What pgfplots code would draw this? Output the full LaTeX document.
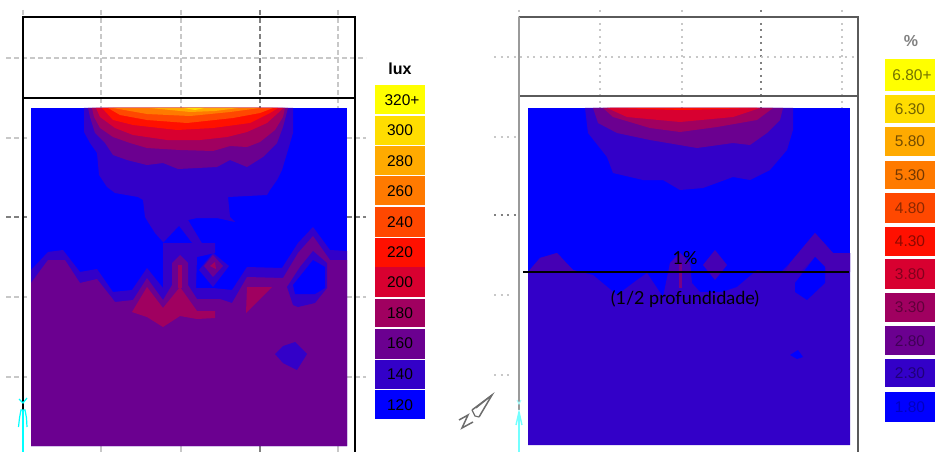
\documentclass[border=0pt]{standalone}
\usepackage{fontspec}
\setmainfont{Liberation Sans}
\newfontfamily\thinf{Lato}
\usepackage{pgfplots}
\pgfplotsset{compat=1.18}
\definecolor{cA}{HTML}{0000FF}
\definecolor{cB}{HTML}{3300C8}
\definecolor{cC}{HTML}{6B0090}
\definecolor{cD}{HTML}{A00060}
\definecolor{cE}{HTML}{D80030}
\definecolor{cF}{HTML}{FF1000}
\definecolor{cG}{HTML}{FF4800}
\definecolor{cH}{HTML}{FF7A00}
\definecolor{cI}{HTML}{FFAA00}
\definecolor{cJ}{HTML}{FFDD00}
\definecolor{cK}{HTML}{FFFF00}
\definecolor{gl}{HTML}{C8C8C8}
\definecolor{gd}{HTML}{808080}
\definecolor{cy}{HTML}{00FFFF}
\definecolor{cP}{HTML}{4600B4}
\newcommand{\poly}[2]{\addplot[fill=#1,draw=none,forget plot] coordinates {#2} --cycle;}
\newcommand{\seg}[2]{\addplot[forget plot,#1] coordinates {#2};}
\newcommand{\swatch}[5]{\addplot[fill=#1,draw=none,forget plot] coordinates {(#2,#4)(#3,#4)(#3,#5)(#2,#5)} --cycle;}
\begin{document}
\begin{tikzpicture}
\useasboundingbox (0,0) rectangle (938pt,452pt);
\begin{axis}[hide axis,scale only axis,width=938pt,height=452pt,xmin=0,xmax=938,ymin=0,ymax=452,y dir=reverse,no markers,line join=miter]
% ---- left panel grid
\seg{gl,line width=1.2pt,dash pattern=on 5pt off 3pt}{(23,10)(23,17)}
\seg{gl,line width=1.2pt,dash pattern=on 5pt off 3pt}{(101,10)(101,108)}
\seg{gl,line width=1.2pt,dash pattern=on 5pt off 3pt}{(181,10)(181,108)}
\seg{gd,line width=1.2pt,dash pattern=on 5pt off 3pt}{(260,10)(260,108)}
\seg{gl,line width=1.2pt,dash pattern=on 5pt off 3pt}{(338,10)(338,108)}
\seg{gl,line width=1.2pt,dash pattern=on 5pt off 3pt}{(6,58)(366,58)}
\seg{gl,line width=1.2pt,dash pattern=on 5pt off 3pt}{(6,138)(29,138)}
\seg{gl,line width=1.2pt,dash pattern=on 5pt off 3pt}{(347,138)(366,138)}
\seg{gd,line width=1.2pt,dash pattern=on 5pt off 3pt}{(6,217)(29,217)}
\seg{gd,line width=1.2pt,dash pattern=on 5pt off 3pt}{(347,217)(366,217)}
\seg{gl,line width=1.2pt,dash pattern=on 5pt off 3pt}{(6,297)(29,297)}
\seg{gl,line width=1.2pt,dash pattern=on 5pt off 3pt}{(347,297)(366,297)}
\seg{gl,line width=1.2pt,dash pattern=on 5pt off 3pt}{(6,377)(29,377)}
\seg{gl,line width=1.2pt,dash pattern=on 5pt off 3pt}{(347,377)(366,377)}
\seg{gl,line width=1.5pt}{(101,446)(101,452)}
\seg{gl,line width=1.5pt}{(181,446)(181,452)}
\seg{gd,line width=1.5pt}{(260,446)(260,452)}
\seg{gl,line width=1.5pt}{(338,446)(338,452)}
% ---- left panel frame
\seg{black,line width=1.6pt}{(23,415)(23,17)(355,17)(355,452)}
\seg{black,line width=1.6pt}{(23,98)(355,98)}
% ---- left panel map
\poly{cA}{(31,108)(347,108)(347,446)(31,446)}
\poly{cB}{(84,108)(84,132)(90,143)(97,153)(99,175)(107,187)(115,193)(138,197)(143,200)(145,217)(148,222)(155,233)(163,242)(163,245)(203,245)(188,220)(197,218)(217,218)(235,222)(230,217)(228,197)(267,195)(270,190)(277,180)(282,170)(288,150)(293,133)(293,108)}
\poly{cA}{(163,243)(179,226)(192,243)}
\poly{cB}{(31,270)(48,252)(63,250)(80,272)(97,269)(113,292)(132,290)(147,268)(163,288)(163,243)(215,243)(215,253)(197,257)(196,288)(213,288)(232,290)(247,267)(282,268)(298,243)(313,227)(330,250)(347,251)(347,446)(31,446)}
\poly{cB}{(213,253)(229,266)(213,287)(199,270)}
\poly{cC}{(204,266)(213,255)(223,266)(213,277)}
\poly{cD}{(210,266)(215,262)(216,269)}
\poly{cC}{(88,108)(90,117)(95,133)(105,143)(113,155)(127,160)(147,165)(163,163)(178,169)(217,167)(230,160)(247,167)(263,157)(277,143)(283,127)(288,108)}
\poly{cD}{(92,108)(94,117)(100,128)(113,137)(130,143)(147,148)(180,150)(213,151)(230,146)(247,147)(260,142)(275,130)(283,117)(285,108)}
\poly{cE}{(96,108)(100,117)(115,128)(133,135)(167,140)(200,140)(227,137)(247,132)(267,123)(278,113)(283,108)}
\poly{cF}{(102,108)(113,120)(133,125)(177,130)(213,128)(250,123)(270,113)(278,108)}
\poly{cG}{(108,108)(120,115)(147,120)(187,123)(233,118)(260,113)(273,108)}
\poly{cH}{(113,108)(147,114)(190,116)(230,112)(260,108)}
\poly{cI}{(150,108)(190,112)(215,111)(238,108)}
\poly{cJ}{(184,108)(195,110)(204,108)}
\poly{cC}{(31,283)(48,260)(65,260)(80,283)(97,279)(112,298)(115,302)(133,300)(147,278)(163,300)(172,285)(172,263)(180,255)(188,263)(188,285)(197,299)(220,299)(232,303)(247,277)(283,278)(298,253)(313,236)(330,260)(347,260)(347,446)(31,446)}
\poly{cB}{(287,287)(293,305)(298,307)(315,303)(327,288)(327,263)(313,251)(300,267)}
\poly{cA}{(293,285)(313,260)(325,267)(325,288)(315,294)(295,294)}
\poly{cD}{(132,312)(147,287)(163,308)(180,287)(197,311)(215,311)(215,318)(197,319)(180,316)(163,327)(147,317)}
\poly{cD}{(178,265)(182,265)(182,288)(178,288)}
\poly{cD}{(247,287)(272,287)(246,313)}
\poly{cB}{(275,354)(283,346)(295,342)(307,354)(297,370)(283,363)}
% ---- left cyan marker
\seg{cy,line width=1.2pt}{(23,410)(23,452)}
\seg{cy,line width=1.2pt}{(18.5,427)(19.5,418)(21,410)(25,410)(26.5,418)(27,427)}
\seg{cy,line width=1.2pt}{(19,399)(23,403)(27,398)}
% ---- left legend
\swatch{cK}{375}{425}{85}{114}
\swatch{cJ}{375}{425}{116}{145}
\swatch{cI}{375}{425}{146}{175}
\swatch{cH}{375}{425}{176}{205}
\swatch{cG}{375}{425}{207}{237}
\swatch{cF}{375}{425}{238}{267}
\swatch{cE}{375}{425}{267}{297}
\swatch{cD}{375}{425}{299}{327}
\swatch{cC}{375}{425}{329}{359}
\swatch{cB}{375}{425}{360}{389}
\swatch{cA}{375}{425}{390}{419}
% ---- right panel grid
\seg{gl,line width=1.2pt,dash pattern=on 2pt off 4.5pt}{(519,10)(519,17)}
\seg{gl,line width=1.2pt,dash pattern=on 2pt off 4.5pt}{(600,10)(600,108)}
\seg{gl,line width=1.2pt,dash pattern=on 2pt off 4.5pt}{(682,10)(682,108)}
\seg{gd,line width=1.2pt,dash pattern=on 2pt off 4.5pt}{(761,10)(761,108)}
\seg{gl,line width=1.2pt,dash pattern=on 2pt off 4.5pt}{(842,10)(842,108)}
\seg{gl,line width=1.2pt,dash pattern=on 2pt off 4.5pt}{(494,57)(858,57)}
\seg{gl,line width=1.2pt,dash pattern=on 2pt off 4.5pt}{(494,137)(519,137)}
\seg{gd,line width=1.2pt,dash pattern=on 2pt off 4.5pt}{(494,215)(519,215)}
\seg{gl,line width=1.2pt,dash pattern=on 2pt off 4.5pt}{(494,295)(512,295)}
\seg{gl,line width=1.2pt,dash pattern=on 2pt off 4.5pt}{(494,375)(512,375)}
% ---- right panel frame
\seg{gd!70!black,line width=1.4pt}{(519,17)(858,17)(858,452)}
\seg{gd!70!black,line width=1.2pt}{(519,96)(858,96)}
\seg{gd!80!white,line width=2pt}{(519,17)(519,410)}
% ---- right panel map
\poly{cA}{(528,108)(850,108)(850,445)(528,445)}
\poly{cB}{(585,108)(588,133)(607,157)(613,173)(643,180)(663,180)(680,190)(703,188)(733,177)(750,180)(770,170)(787,150)(793,130)(793,108)}
\poly{cC}{(593,108)(598,123)(617,133)(650,140)(697,148)(733,143)(750,145)(767,133)(780,120)(783,108)}
\poly{cD}{(603,108)(613,117)(650,128)(680,132)(717,127)(757,120)(773,108)}
\poly{cE}{(607,108)(627,117)(680,122)(733,117)(760,108)}
\poly{cF}{(610,108)(683,110)(757,108)}
\poly{cB}{(528,272)(540,258)(557,253)(573,270)(593,275)(617,295)(637,280)(647,273)(663,297)(670,263)(680,253)(690,263)(692,283)(700,292)(722,292)(737,287)(757,270)(780,273)(790,263)(815,233)(833,253)(850,253)(850,445)(528,445)}
\poly{cP}{(528,272)(540,258)(557,253)(573,270)(580,272)}
\poly{cP}{(669,272)(670,263)(680,253)(690,263)(691,272)}
\poly{cP}{(785,272)(790,263)(815,233)(833,253)(850,253)(850,272)(826,272)(825,267)(815,257)(800,272)}
\poly{cP}{(703,265)(715,250)(727,265)(715,280)}
\poly{cA}{(795,283)(815,257)(825,267)(825,283)(807,300)(795,292)}
\poly{cA}{(790,355)(798,350)(803,357)(797,359)}
\poly{cD!65!cB}{(679,263)(682,263)(682,288)(679,288)}
\seg{black,line width=1.4pt}{(523,272)(849,272)}
% ---- compass and cyan marker
\seg{gd!85!black,line width=1.5pt}{(472,410)(492,395)(479,417)}
\seg{gd!85!black,line width=1.2pt}{(492,395)(476,408)}
\seg{gd!85!black,line width=1.2pt}{(472,410)(475,416)(479,417)}
\seg{gd!85!black,line width=1.5pt}{(459,420)(468,415)(462,428)(473,422)}
\seg{cy!55!white,line width=1.6pt}{(519,412)(519,452)}
\seg{cy!55!white,line width=1.4pt}{(516,425)(519,412)(522,425)}
\seg{cy!35!white,line width=1pt}{(517,400)(519,404)(521,400)}
% ---- right legend
\swatch{cK}{885}{935}{59}{91}
\swatch{cJ}{885}{935}{95}{123}
\swatch{cI}{885}{935}{127}{156}
\swatch{cH}{885}{935}{161}{189}
\swatch{cG}{885}{935}{193}{223}
\swatch{cF}{885}{935}{227}{256}
\swatch{cE}{885}{935}{259}{289}
\swatch{cD}{885}{935}{293}{322}
\swatch{cC}{885}{935}{326}{355}
\swatch{cB}{885}{935}{359}{387}
\swatch{cA}{885}{935}{392}{422}
% ---- text
\def\lbl{\fontsize{15.5}{15.5}\selectfont}
\node[font=\fontsize{16}{16}\selectfont\bfseries] at (axis cs:400,69) {lux};
\node[font=\lbl] at (axis cs:402,100) {320+};
\node[font=\lbl] at (axis cs:400,130) {300};
\node[font=\lbl] at (axis cs:400,161) {280};
\node[font=\lbl] at (axis cs:400,191) {260};
\node[font=\lbl] at (axis cs:400,222) {240};
\node[font=\lbl] at (axis cs:400,252) {220};
\node[font=\lbl] at (axis cs:400,282) {200};
\node[font=\lbl] at (axis cs:400,313) {180};
\node[font=\lbl] at (axis cs:400,343) {160};
\node[font=\lbl] at (axis cs:400,374) {140};
\node[font=\lbl] at (axis cs:400,405) {120};
\node[font=\fontsize{16}{16}\selectfont\bfseries,text=gray] at (axis cs:911,41) {\%};
\node[font=\lbl,text=cK!45!black] at (axis cs:912,75) {6.80+};
\node[font=\lbl,text=cJ!45!black] at (axis cs:910,109) {6.30};
\node[font=\lbl,text=cI!45!black] at (axis cs:910,141) {5.80};
\node[font=\lbl,text=cH!45!black] at (axis cs:910,175) {5.30};
\node[font=\lbl,text=cG!55!black] at (axis cs:910,208) {4.80};
\node[font=\lbl,text=cF!55!black] at (axis cs:910,241) {4.30};
\node[font=\lbl,text=cE!60!black] at (axis cs:910,274) {3.80};
\node[font=\lbl,text=cD!60!black] at (axis cs:910,307) {3.30};
\node[font=\lbl,text=cC!60!black] at (axis cs:910,341) {2.80};
\node[font=\lbl,text=cB!60!black] at (axis cs:910,373) {2.30};
\node[font=\lbl,text=cA!75!black] at (axis cs:910,407) {1.80};
\node[font=\fontsize{18}{18}\selectfont\thinf] at (axis cs:685,258) {1\%};
\node[font=\fontsize{18}{18}\selectfont\thinf] at (axis cs:685,299) {(1/2 profundidade)};
\end{axis}
\end{tikzpicture}
\end{document}
